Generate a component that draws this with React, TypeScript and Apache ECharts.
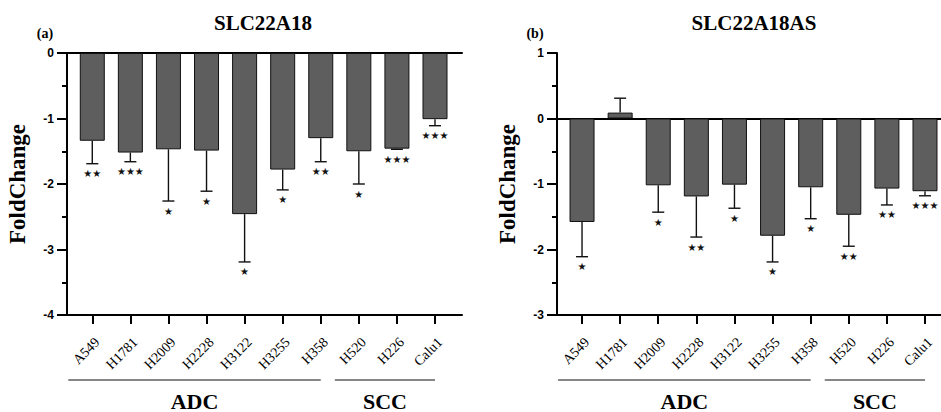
import React, { useEffect, useRef } from 'react';
import * as echarts from 'echarts';

const categories = ['A549', 'H1781', 'H2009', 'H2228', 'H3122', 'H3255', 'H358', 'H520', 'H226', 'Calu1'];

// Panel (a) SLC22A18
const slcMeans = [-1.34, -1.52, -1.47, -1.49, -2.46, -1.78, -1.30, -1.50, -1.46, -1.01];
const slcErrors = [0.35, 0.14, 0.79, 0.62, 0.73, 0.31, 0.36, 0.50, 0.01, 0.10];
const slcSignif = ['**', '***', '*', '*', '*', '*', '**', '*', '***', '***'];

// Panel (b) SLC22A18AS
const asMeans = [-1.58, 0.09, -1.02, -1.19, -1.01, -1.79, -1.05, -1.47, -1.07, -1.11];
const asErrors = [0.53, 0.22, 0.41, 0.62, 0.36, 0.40, 0.48, 0.48, 0.25, 0.07];
const asSignif = ['*', '', '*', '**', '*', '*', '*', '**', '**', '***'];

const leftRange = [-4, 0];
const rightRange = [-3, 1];

const groups = [
  { name: 'ADC', first: 0, last: 6 },
  { name: 'SCC', first: 7, last: 9 },
];

const titles = ['SLC22A18', 'SLC22A18AS'];
const panelTags = ['(a)', '(b)'];
const yName = 'FoldChange';

const SERIF = '"Liberation Serif", "Times New Roman", serif';
const SANS = '"Liberation Sans", Arial, sans-serif';

const catIdx = categories.map((_, i) => i);

function xAxisCfg(gridIndex: number, min: number, max: number) {
  return [
    {
      gridIndex,
      type: 'value',
      min,
      max,
      position: 'bottom',
      axisLine: { show: true, onZero: false, lineStyle: { color: '#000', width: 2 } },
      axisTick: { show: true, customValues: catIdx, length: 9, lineStyle: { color: '#000', width: 2 } },
      axisLabel: {
        show: true,
        customValues: catIdx,
        formatter: (v: number) => categories[Math.round(v)] ?? '',
        rotate: 45,
        align: 'right',
        verticalAlign: 'top',
        margin: 20,
        fontFamily: SERIF,
        fontSize: 14,
        color: '#000',
      },
      splitLine: { show: false },
    },
    {
      gridIndex,
      type: 'value',
      min,
      max,
      position: 'top',
      axisLine: { show: true, onZero: true, lineStyle: { color: '#000', width: 2 } },
      axisTick: { show: false },
      axisLabel: { show: false },
      splitLine: { show: false },
    },
  ];
}

function yAxisCfg(gridIndex: number, range: number[]) {
  return {
    gridIndex,
    type: 'value',
    min: range[0],
    max: range[1],
    interval: 1,
    axisLine: { show: true, onZero: false, lineStyle: { color: '#000', width: 2 } },
    axisTick: { show: true, length: 10, lineStyle: { color: '#000', width: 2 } },
    minorTick: { show: true, splitNumber: 2, length: 5, lineStyle: { color: '#000', width: 2 } },
    axisLabel: { color: '#000', fontFamily: SANS, fontWeight: 'bold', fontSize: 12, margin: 13 },
    splitLine: { show: false },
    name: yName,
    nameLocation: 'middle',
    nameGap: 38,
    nameTextStyle: { fontFamily: SERIF, fontWeight: 'bold', fontSize: 23, color: '#000' },
  };
}

function barSeries(means: number[], xAxisIndex: number, yAxisIndex: number) {
  return {
    type: 'bar',
    xAxisIndex,
    yAxisIndex,
    barWidth: 25,
    data: means.map((m, i) => [i, m]),
    itemStyle: { color: '#5e5e5e', borderColor: '#111', borderWidth: 1 },
    z: 2,
  };
}

function errorSeries(means: number[], errs: number[], sig: string[], xAxisIndex: number, yAxisIndex: number) {
  return {
    type: 'custom',
    xAxisIndex,
    yAxisIndex,
    z: 3,
    data: means.map((m, i) => [i, m, m >= 0 ? m + errs[i] : m - errs[i]]),
    encode: { x: 0, y: [1, 2] },
    renderItem: (params: any, api: any) => {
      const i = api.value(0);
      const start = api.coord([i, api.value(1)]);
      const end = api.coord([i, api.value(2)]);
      const dir = end[1] >= start[1] ? 1 : -1;
      const ls = { stroke: '#111', lineWidth: 1.4 };
      const children: any[] = [
        { type: 'line', shape: { x1: start[0], y1: start[1], x2: end[0], y2: end[1] }, style: ls },
        { type: 'line', shape: { x1: end[0] - 6, y1: end[1], x2: end[0] + 6, y2: end[1] }, style: ls },
      ];
      const s = sig[params.dataIndex];
      if (s) {
        children.push({
          type: 'text',
          x: end[0],
          y: end[1] + dir * 10,
          style: {
            text: s.replace(/\*/g, '★'),
            fontFamily: '"DejaVu Sans", sans-serif',
            fontSize: 10,
            fill: '#111',
            align: 'center',
            verticalAlign: 'middle',
            textAlign: 'center',
            textVerticalAlign: 'middle',
          },
        });
      }
      return { type: 'group', children };
    },
  };
}

function textEl(text: string, x: number, y: number, fontSize: number, bold = true) {
  return {
    type: 'text',
    x,
    y,
    style: {
      text,
      fontFamily: SERIF,
      fontSize,
      fontWeight: bold ? 'bold' : 'normal',
      fill: '#000',
      align: 'center',
      verticalAlign: 'middle',
      textAlign: 'center',
      textVerticalAlign: 'middle',
    },
  };
}

export default function App() {
  const ref = useRef<HTMLDivElement>(null);

  useEffect(() => {
    document.body.style.margin = '0';
    if (!ref.current) return;
    const chart = echarts.init(ref.current, undefined, { renderer: 'svg' });

    const option: any = {
      animation: false,
      backgroundColor: '#fff',
      textStyle: { fontFamily: SERIF },
      grid: [
        { left: 67, top: 53, width: 395, height: 262 },
        { left: 557, top: 53, width: 384, height: 262 },
      ],
      xAxis: [...xAxisCfg(0, -0.664, 9.709), ...xAxisCfg(1, -0.657, 9.42)],
      yAxis: [yAxisCfg(0, leftRange), yAxisCfg(1, rightRange)],
      series: [
        barSeries(slcMeans, 0, 0),
        errorSeries(slcMeans, slcErrors, slcSignif, 0, 0),
        barSeries(asMeans, 2, 1),
        errorSeries(asMeans, asErrors, asSignif, 2, 1),
      ],
    };
    chart.setOption(option);

    const graphics: any[] = [
      textEl(titles[0], 263, 23, 21),
      textEl(titles[1], 754, 23, 21),
      textEl(panelTags[0], 45, 33, 14),
      textEl(panelTags[1], 535, 33, 14),
    ];
    [0, 2].forEach((xAxisIndex) => {
      groups.forEach((g) => {
        const x1 = (chart.convertToPixel({ xAxisIndex }, g.first) as number) - 24;
        const x2 = chart.convertToPixel({ xAxisIndex }, g.last) as number;
        graphics.push({
          type: 'line',
          shape: { x1, y1: 380, x2, y2: 380 },
          style: { stroke: '#111', lineWidth: 1.2 },
        });
        graphics.push(textEl(g.name, (x1 + x2) / 2, 401, 22));
      });
    });
    chart.setOption({ graphic: graphics });

    return () => chart.dispose();
  }, []);

  return <div ref={ref} style={{ width: 941, height: 412 }} />;
}
